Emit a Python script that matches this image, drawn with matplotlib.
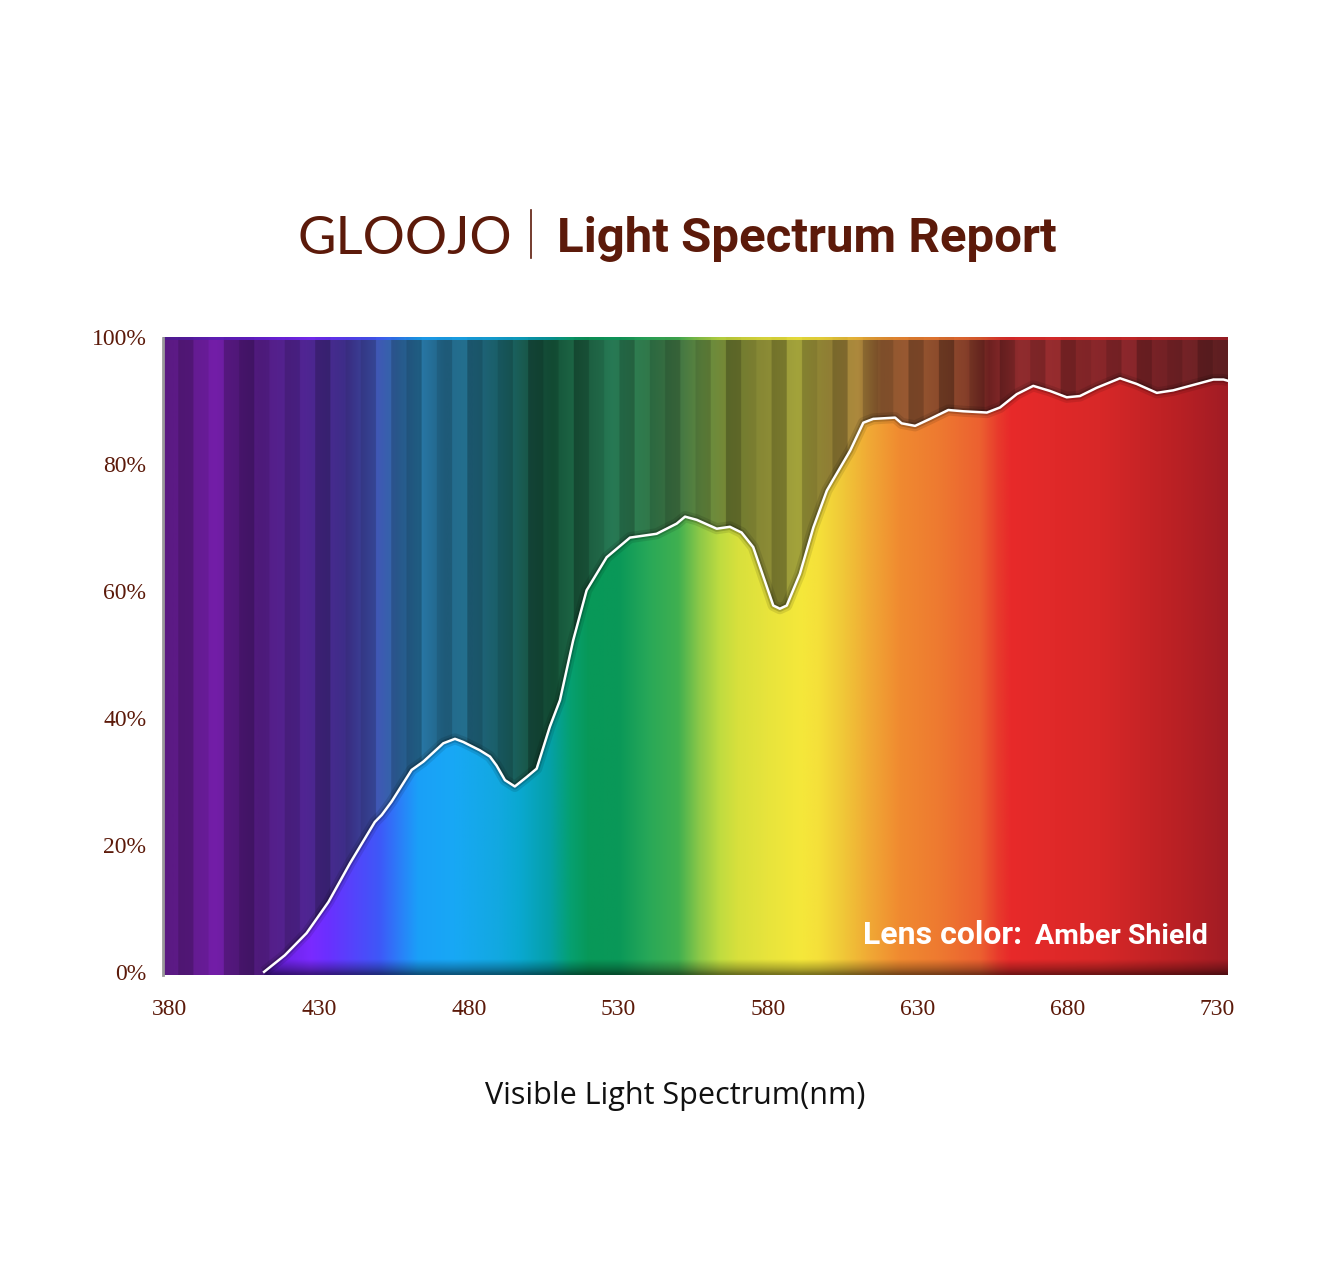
import numpy as np
import matplotlib
matplotlib.use("Agg")
import matplotlib.pyplot as plt
from matplotlib.colors import to_rgb
from matplotlib.patches import Polygon
from matplotlib.lines import Line2D

# transmission curve (nm, %)
wavelength = [411.5, 418.4, 425.7, 433.0, 440.2, 448.5, 450.8, 454.1, 460.8, 464.7, 471.4, 475.3,
              478.1, 483.6, 487.0, 489.2, 492.0, 495.3, 499.3, 502.6, 507.0, 510.4,
              514.8, 519.3, 526.0, 533.8, 542.7, 549.4, 552.2, 556.1, 562.8, 567.2,
              571.1, 575.0, 581.7, 583.9, 586.2, 590.6, 595.1, 599.6, 601.8, 607.4,
              611.8, 615.1, 622.4, 624.6, 629.1, 634.1, 640.2, 645.2, 653.1, 657.5,
              663.1, 668.6, 674.2, 679.8, 684.2, 689.8, 697.6, 703.2, 709.9, 715.4,
              723.3, 728.8, 732.2, 733.7]
transmission = [0.0, 2.6, 6.1, 11.0, 17.1, 23.6, 24.7, 26.8, 31.8, 33.1, 36.0, 36.7,
                36.2, 34.9, 33.9, 32.5, 30.2, 29.2, 30.7, 32.0, 38.6, 42.8,
                52.2, 60.1, 65.3, 68.4, 69.0, 70.6, 71.7, 71.2, 69.8, 70.1,
                69.2, 66.9, 57.7, 57.2, 57.7, 62.7, 70.0, 75.8, 77.6, 82.1,
                86.5, 87.1, 87.3, 86.4, 86.0, 87.1, 88.5, 88.3, 88.1, 88.9,
                91.0, 92.3, 91.5, 90.5, 90.7, 92.0, 93.5, 92.6, 91.2, 91.6,
                92.6, 93.3, 93.3, 93.1]

x_ticks = [380, 430, 480, 530, 580, 630, 680, 730]
y_ticks = [0, 20, 40, 60, 80, 100]
y_labels = ["0%", "20%", "40%", "60%", "80%", "100%"]

# bright spectrum under the curve
bright_stops = [(378, "#4a1a90"), (415, "#6a20e0"), (427, "#7a2aff"), (433, "#6a30ff"),
                (450, "#3e58f8"), (457, "#2a80f8"), (463, "#1aa0f8"), (475, "#18a8f5"),
                (490, "#12a8e0"), (497, "#0aa8d0"), (507, "#05a0a8"), (514, "#06a070"),
                (520, "#089858"), (530, "#0a9858"), (540, "#28a858"), (550, "#40b050"),
                (557, "#8cc848"), (564, "#c0dc40"), (570, "#d8e03c"), (580, "#e8e43c"),
                (591, "#f5e83a"), (597, "#f5e03a"), (605, "#f0c838"), (614, "#f0a835"),
                (624, "#f08a30"), (637, "#ee7a30"), (651, "#ec6030"), (657, "#e83a2c"),
                (661, "#e82a2a"), (691, "#d82828"), (718, "#b82024"), (734, "#a01c24")]

# dim striped spectrum above the curve
dark_stops = [(378, "#5a1a82"), (395, "#641a92"), (410, "#4e1a7a"), (425, "#4a2288"),
              (438, "#38287a"), (448, "#3a4aa0"), (456, "#2a5a90"), (463, "#256e9a"),
              (472, "#1e5a78"), (482, "#1e6078"), (492, "#185a5e"), (500, "#164e40"),
              (508, "#124a32"), (518, "#1c5e40"), (528, "#24704e"), (540, "#2a6840"),
              (550, "#3e7040"), (558, "#5a7e3a"), (566, "#6a7a30"), (578, "#7c7c30"),
              (590, "#8a8a32"), (600, "#8a7a32"), (610, "#9a7a36"), (618, "#7e4e2a"),
              (632, "#8a4e2c"), (646, "#7a3a26"), (654, "#5e1c1c"), (664, "#8a2a2c"),
              (680, "#842628"), (700, "#7a2226"), (715, "#6e2024"), (734, "#5a1e20")]

stripe_shade = [1.00, 0.85, 1.05, 1.15, 0.90, 0.80, 1.00, 1.10, 0.95, 1.08,
                0.88, 1.12, 1.02, 0.92, 1.15, 0.96, 0.84, 1.10, 1.00, 1.18,
                0.90, 1.04, 0.94, 1.12, 0.86, 1.00, 1.14, 0.82, 0.98, 1.08,
                0.92, 1.16, 1.00, 0.88, 1.06, 0.95, 1.12, 0.84, 1.02, 1.10,
                0.90, 1.18, 0.96, 1.04, 0.86, 1.12, 0.94, 1.00, 1.14, 0.88,
                1.06, 0.80, 1.10, 0.98, 1.16, 0.90, 1.04, 0.92, 1.12, 0.86,
                1.00, 1.08, 0.94, 1.14, 0.88, 1.04, 0.96, 1.10, 0.90, 1.02]

brown = "#5c1a0a"
W, H = 1325, 1280
x0, x1 = 377.7, 733.7
y0, y1 = -0.5, 99.85


def ramp(stops, xs):
    nm = [s[0] for s in stops]
    rgb = np.array([to_rgb(s[1]) for s in stops])
    return np.stack([np.interp(xs, nm, rgb[:, k]) for k in range(3)], axis=1)


fig = plt.figure(figsize=(W / 100, H / 100), dpi=100)
ax = fig.add_axes([163 / W, 1 - 975 / H, (1228 - 163) / W, (975 - 337) / H])
ax.set_xlim(x0, x1)
ax.set_ylim(y0, y1)

xs = np.linspace(x0, x1, 1400)

# background stripes
idx = ((xs - x0) / (x1 - x0) * len(stripe_shade)).astype(int).clip(0, len(stripe_shade) - 1)
shade = np.array(stripe_shade)[idx]
dark = np.clip(ramp(dark_stops, xs) * shade[:, None], 0, 1)
ax.imshow(dark[None, :, :], extent=[x0, x1, y0, y1], aspect="auto", origin="lower",
          interpolation="bilinear", zorder=1)

# thin bright line on top edge
bright = ramp(bright_stops, xs)
ax.imshow(bright[None, :, :], extent=[x0, x1, 99.5, y1], aspect="auto", origin="lower",
          zorder=2, alpha=0.8)

# bright spectrum clipped to the area under the curve
ys = np.linspace(y0, y1, 300)
vfac = np.interp(ys, [y0, 0.3, 1.8, y1], [0.5, 0.72, 1.0, 1.0])
bright_img = np.clip(bright[None, :, :] * vfac[:, None, None], 0, 1)
im = ax.imshow(bright_img, extent=[x0, x1, y0, y1], aspect="auto", origin="lower",
               interpolation="bilinear", zorder=3)
verts = list(zip(wavelength, transmission)) + [(wavelength[-1], y0), (wavelength[0], y0)]
clip = Polygon(verts, closed=True, transform=ax.transData, facecolor="none", edgecolor="none")
ax.add_patch(clip)
im.set_clip_path(clip)

# curve with soft shadow
ax.plot(wavelength, transmission, color="black", lw=8, alpha=0.10, zorder=4,
        solid_capstyle="butt", solid_joinstyle="round")
ax.plot(wavelength, transmission, color="black", lw=4.5, alpha=0.18, zorder=4,
        solid_capstyle="butt", solid_joinstyle="round")
ax.plot(wavelength, transmission, color="white", lw=1.8, zorder=5,
        solid_joinstyle="round")

# left edge shadow
ax.plot([x0, x0], [y0, y1], color="#9a9a9a", lw=2, zorder=6, clip_on=False)

for s in ax.spines.values():
    s.set_visible(False)

ax.set_xticks(x_ticks)
ax.set_yticks(y_ticks)
ax.set_yticklabels(y_labels)
ax.tick_params(length=0, labelcolor=brown, labelsize=17)
ax.tick_params(axis="x", pad=17)
ax.tick_params(axis="y", pad=12)
for lab in ax.get_xticklabels() + ax.get_yticklabels():
    lab.set_family("Liberation Serif")

# lens colour note
fig.text(1022 / W, 1 - 944 / H, "Lens color:", color="white", fontsize=23,
         fontweight="bold", family="Roboto", ha="right", va="baseline")
fig.text(1208 / W, 1 - 944 / H, "Amber Shield", color="white", fontsize=20.5,
         fontweight="bold", family="Roboto", ha="right", va="baseline")

# header
fig.text(557 / W, 1 - 252 / H, "Light Spectrum Report", color=brown, fontsize=35.5,
         fontweight="bold", family="Roboto", ha="left", va="baseline")
fig.text(512 / W, 1 - 254 / H, "GLOOJO", color=brown, fontsize=38, family="Lato",
         fontweight="normal", ha="right", va="baseline")
fig.add_artist(Line2D([531 / W, 531 / W], [1 - 210 / H, 1 - 258 / H], color=brown, lw=1.2))

fig.text(675 / W, 1 - 1096 / H, "Visible Light Spectrum(nm)", color="#111111", fontsize=22,
         family="Open Sans", ha="center", va="center")

fig.savefig("out.png", dpi=100, facecolor="white")
